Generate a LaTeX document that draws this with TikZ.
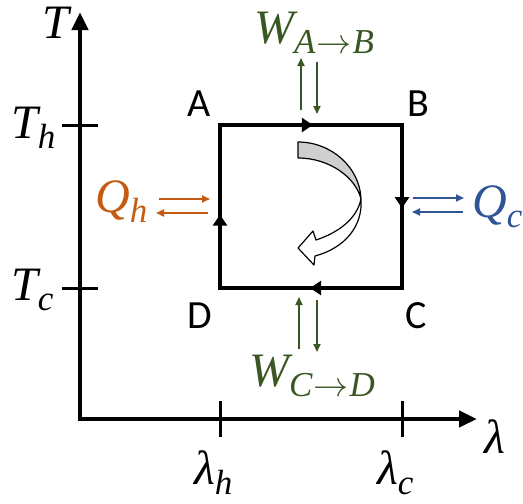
\RequirePackage{fix-cm}
\documentclass[tikz,border=0pt]{standalone}
\usepackage{fontspec}
\setsansfont{Carlito}
\newfontfamily\mlab{Liberation Serif}
\usetikzlibrary{arrows.meta,decorations.markings}
\definecolor{wgreen}{HTML}{385723}
\definecolor{qorange}{HTML}{C55A11}
\definecolor{qblue}{HTML}{2F5597}
\definecolor{cgray}{HTML}{CFCFCF}
\newcommand{\msub}[2]{#1\raisebox{-10pt}{\fontsize{35}{35}\selectfont #2}}
\newcommand{\sarr}{\kern1pt$\rightarrow$\kern1pt}
\tikzset{
  axisline/.style={line width=4.5pt, line join=miter, {Triangle[length=18pt,width=16pt]}-{Triangle[length=18pt,width=16pt]}},
  tickline/.style={line width=3pt},
  rectline/.style={line width=4.5pt, line join=miter},
  midarrow/.style={line width=4.5pt, postaction={decorate}, decoration={markings, mark=at position #1 with {\arrow{Triangle[length=11pt,width=14pt]}}}},
  mathlbl/.style={font=\mlab\itshape\fontsize{48}{52}\selectfont, inner sep=0pt},
  ptlbl/.style={font=\sffamily\fontsize{40}{44}\selectfont, inner sep=0pt},
  flow/.style={line width=1.8pt, -{Triangle[length=8pt,width=7pt]}},
  bendarrow/.style={line width=1.2pt, draw=black, line join=round}
}
\begin{document}
\begin{tikzpicture}[x=1pt,y=-1pt]
\useasboundingbox (0,0) rectangle (523,504);
% axes
\coordinate (Ttop) at (80,12);
\coordinate (O) at (80,419);
\coordinate (Lend) at (477,419);
\draw[axisline] (Ttop) -- (O) -- (Lend);
% ticks
\coordinate (th1) at (62,125); \coordinate (th2) at (98,125);
\coordinate (tc1) at (62,288); \coordinate (tc2) at (98,288);
\coordinate (lh1) at (220,401); \coordinate (lh2) at (220,437);
\coordinate (lc1) at (402,401); \coordinate (lc2) at (402,437);
\draw[tickline] (th1) -- (th2);
\draw[tickline] (tc1) -- (tc2);
\draw[tickline] (lh1) -- (lh2);
\draw[tickline] (lc1) -- (lc2);
% axis labels
\node[mathlbl, anchor=base] (lT) at (56,38) {T};
\node[mathlbl, anchor=base west] (lTh) at (11,138) {\msub{T}{h}};
\node[mathlbl, anchor=base west] (lTc) at (11,300) {\msub{T}{c}};
\node[mathlbl, anchor=base] (llam) at (495,453) {λ};
\node[mathlbl, anchor=base west] (llh) at (194,484) {\msub{λ}{h}};
\node[mathlbl, anchor=base west] (llc) at (377,484) {\msub{λ}{c}};
% cycle
\coordinate (A) at (220,125);
\coordinate (B) at (402,125);
\coordinate (C) at (402,288);
\coordinate (D) at (220,288);
\draw[rectline] (A) -- (B) -- (C) -- (D) -- cycle;
\draw[midarrow=0.51] (A) -- (B);
\draw[midarrow=0.51] (B) -- (C);
\draw[midarrow=0.505] (C) -- (D);
\draw[midarrow=0.45] (D) -- (A);
\node[ptlbl] (nA) at (199,104) {A};
\node[ptlbl] (nB) at (418,104) {B};
\node[ptlbl] (nC) at (416,316) {C};
\node[ptlbl] (nD) at (200,316) {D};
% curved arrow
\filldraw[bendarrow, fill=cgray] (298,142) .. controls (332,142) and (360,168) .. (361,199)
  .. controls (356,178) and (330,158) .. (298,158) -- cycle;
\filldraw[bendarrow, fill=white] (361,199) .. controls (363,226) and (345,248) .. (315,256)
  -- (314,265) -- (298,248) -- (313,231) -- (316,240)
  .. controls (340,232) and (357,218) .. (361,199) -- cycle;
% work A->B
\node[mathlbl, text=wgreen, anchor=base west] (WAB) at (254,43) {\msub{W}{A\sarr B}};
\coordinate (wab1) at (301,110); \coordinate (wab2) at (301,58);
\coordinate (wab3) at (317,62); \coordinate (wab4) at (317,114);
\draw[flow, wgreen] (wab1) -- (wab2);
\draw[flow, wgreen] (wab3) -- (wab4);
% work C->D
\node[mathlbl, text=wgreen, anchor=base west] (WCD) at (249,386) {\msub{W}{C\sarr D}};
\coordinate (wcd1) at (299,349); \coordinate (wcd2) at (299,297);
\coordinate (wcd3) at (317,300); \coordinate (wcd4) at (317,352);
\draw[flow, wgreen] (wcd1) -- (wcd2);
\draw[flow, wgreen] (wcd3) -- (wcd4);
% heat hot
\node[mathlbl, text=qorange, anchor=base west] (Qh) at (95,212) {\msub{Q}{h}};
\coordinate (qh1) at (159,199); \coordinate (qh2) at (210,199);
\coordinate (qh3) at (208,213); \coordinate (qh4) at (156,213);
\draw[flow, qorange] (qh1) -- (qh2);
\draw[flow, qorange] (qh3) -- (qh4);
% heat cold
\node[mathlbl, text=qblue, anchor=base west] (Qc) at (472,217) {\msub{Q}{c}};
\coordinate (qc1) at (413,198); \coordinate (qc2) at (464,198);
\coordinate (qc3) at (463,212); \coordinate (qc4) at (412,212);
\draw[flow, qblue] (qc1) -- (qc2);
\draw[flow, qblue] (qc3) -- (qc4);
\end{tikzpicture}
\end{document}
